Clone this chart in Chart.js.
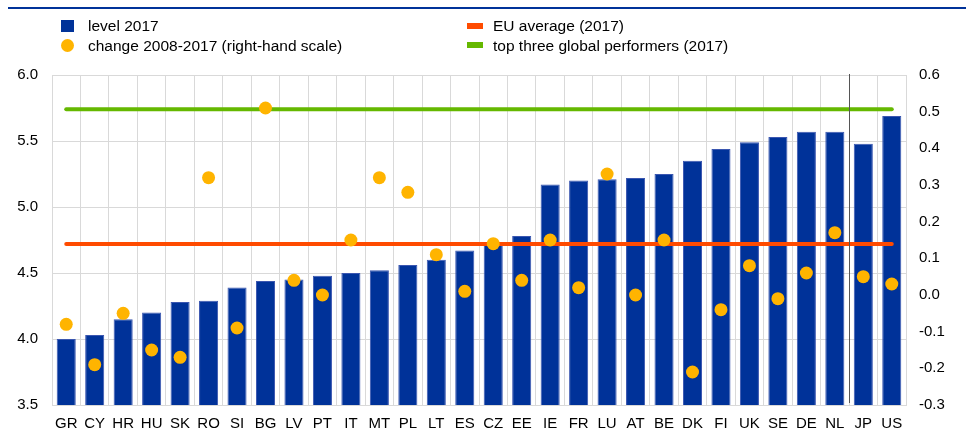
<!DOCTYPE html>
<html>
<head>
<meta charset="utf-8">
<script src="https://cdn.jsdelivr.net/npm/chart.js@4"></script>
<style>
  body { margin: 0; background: #fff; }
  .wrap { position: relative; width: 966px; height: 430px; font-family: "Liberation Sans", Arial, sans-serif; color: #000; }
  .rule { position: absolute; left: 8px; top: 7px; width: 958px; height: 2px; background: #003299; }
  .lg { position: absolute; font-size: 15.5px; line-height: 18px; white-space: nowrap; }
  .sw { position: absolute; }
  canvas { position: absolute; left: 0; top: 0; }
</style>
</head>
<body>
<div class="wrap">
  <canvas id="myChart" width="966" height="430"></canvas>
  <div class="rule"></div>
  <div class="sw" style="left:61px;top:20px;width:13px;height:12px;background:#003299"></div>
  <div class="lg" style="left:88px;top:17px">level 2017</div>
  <div class="sw" style="left:61px;top:39px;width:13px;height:13px;border-radius:50%;background:#FFB400"></div>
  <div class="lg" style="left:88px;top:37px">change 2008-2017 (right-hand scale)</div>
  <div class="sw" style="left:467px;top:23px;width:16px;height:6px;background:#FF4B00"></div>
  <div class="lg" style="left:493px;top:17px">EU average (2017)</div>
  <div class="sw" style="left:467px;top:42px;width:16px;height:6px;background:#65B800"></div>
  <div class="lg" style="left:493px;top:37px">top three global performers (2017)</div>
</div>
<script>
// Data
const countries = ['GR', 'CY', 'HR', 'HU', 'SK', 'RO', 'SI', 'BG', 'LV', 'PT', 'IT', 'MT', 'PL', 'LT', 'ES',
    'CZ', 'EE', 'IE', 'FR', 'LU', 'AT', 'BE', 'DK', 'FI', 'UK', 'SE', 'DE', 'NL', 'JP', 'US'];
const level2017 = [4.00, 4.03, 4.15, 4.20, 4.28, 4.29, 4.39, 4.44, 4.45, 4.48, 4.50, 4.52, 4.56, 4.60, 4.67,
    4.73, 4.78, 5.17, 5.20, 5.21, 5.22, 5.25, 5.35, 5.44, 5.49, 5.53, 5.57, 5.57, 5.48, 5.69];
const change2008_2017 = [-0.08, -0.19, -0.05, -0.15, -0.17, 0.32, -0.09, 0.51, 0.04, 0.00, 0.15, 0.32, 0.28, 0.11, 0.01,
    0.14, 0.04, 0.15, 0.02, 0.33, 0.00, 0.15, -0.21, -0.04, 0.08, -0.01, 0.06, 0.17, 0.05, 0.03];
const euAverage = 4.72;
const topThree = 5.74;
const leftTicks = [3.5, 6.0, 0.5];   // min, max, step
const rightTicks = [-0.3, 0.6, 0.1];
const splitAfter = 'NL';

const gridColor = '#d9d9d9';
const tickFont = { family: '"Liberation Sans", Arial, sans-serif', size: 15 };

// thin separator between EU countries and JP/US
const separator = {
    id: 'separator',
    afterDatasetsDraw(chart) {
        const x = chart.scales.x;
        const i = countries.indexOf(splitAfter);
        const px = (x.getPixelForValue(i) + x.getPixelForValue(i + 1)) / 2;
        const ctx = chart.ctx;
        ctx.save();
        ctx.strokeStyle = '#555555';
        ctx.lineWidth = 1;
        ctx.beginPath();
        ctx.moveTo(Math.round(px) + 0.5, chart.chartArea.top - 1);
        ctx.lineTo(Math.round(px) + 0.5, chart.chartArea.bottom - 2);
        ctx.stroke();
        ctx.restore();
    }
};

const ctx = document.getElementById('myChart').getContext('2d');
const myChart = new Chart(ctx, {
    data: {
        labels: countries,
        datasets: [{
                type: 'line',
                label: 'change 2008-2017 (right-hand scale)',
                data: change2008_2017,
                yAxisID: 'y2',
                showLine: false,
                pointRadius: 6.5,
                pointHoverRadius: 6.5,
                pointBackgroundColor: '#FFB400',
                pointBorderWidth: 0,
                order: 1
            },
            {
                type: 'line',
                label: 'EU average (2017)',
                data: countries.map(() => euAverage),
                yAxisID: 'y',
                borderColor: '#FF4B00',
                borderWidth: 4,
                pointRadius: 0,
                borderCapStyle: 'round',
                order: 2
            },
            {
                type: 'line',
                label: 'top three global performers (2017)',
                data: countries.map(() => topThree),
                yAxisID: 'y',
                borderColor: '#65B800',
                borderWidth: 4,
                pointRadius: 0,
                borderCapStyle: 'round',
                order: 2
            },
            {
                type: 'bar',
                label: 'level 2017',
                data: level2017,
                yAxisID: 'y',
                backgroundColor: '#003299',
                borderColor: '#3a56b0',
                borderWidth: 1,
                barPercentage: 0.67,
                categoryPercentage: 1,
                order: 3
            }
        ]
    },
    options: {
        responsive: false,
        animation: false,
        layout: {
            padding: { top: 75, left: 0, right: 0, bottom: 0 }
        },
        plugins: {
            legend: { display: false },
            tooltip: { enabled: false }
        },
        scales: {
            x: {
                offset: true,
                grid: { color: gridColor, offset: true, drawTicks: false },
                border: { color: gridColor },
                ticks: { color: '#000', font: tickFont, padding: 10, maxRotation: 0, autoSkip: false },
                afterFit(s) { s.height = 25; }
            },
            y: {
                position: 'left',
                min: leftTicks[0],
                max: leftTicks[1],
                grid: { color: gridColor, drawTicks: false },
                border: { color: gridColor },
                ticks: {
                    stepSize: leftTicks[2],
                    color: '#000',
                    font: tickFont,
                    padding: 14,
                    callback: v => v.toFixed(1)
                },
                afterFit(s) { s.width = 52; }
            },
            y2: {
                position: 'right',
                min: rightTicks[0],
                max: rightTicks[1],
                grid: { display: false, drawTicks: false },
                border: { color: gridColor },
                ticks: {
                    stepSize: rightTicks[2],
                    color: '#000',
                    font: tickFont,
                    padding: 13,
                    callback: v => (Math.abs(v) < 1e-9 ? 0 : v).toFixed(1)
                },
                afterFit(s) { s.width = 60; }
            }
        }
    },
    plugins: [separator]
});
</script>
</body>
</html>
